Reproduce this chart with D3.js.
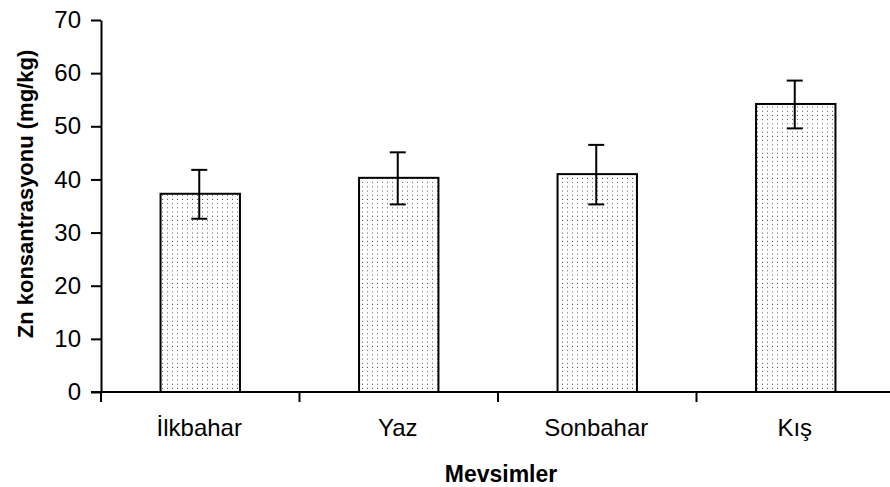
<!DOCTYPE html>
<html><head><meta charset="utf-8">
<script src="https://cdn.jsdelivr.net/npm/d3@7"></script>
<style>body{margin:0;background:#fff}svg{display:block}text{font-family:Arial,"Liberation Sans",sans-serif;fill:#000}</style>
</head><body><svg id="c" width="890" height="487"></svg>
<script>
const categories = ["İlkbahar", "Yaz", "Sonbahar", "Kış"];
const means = [37.3, 40.3, 41.0, 54.2];
const errLow = [32.6, 35.3, 35.3, 49.6];
const errHigh = [41.8, 45.1, 46.5, 58.6];
const yTicks = [0, 10, 20, 30, 40, 50, 60, 70];

const svg = d3.select("#c");
const defs = svg.append("defs");
const pat = defs.append("pattern").attr("id","dots").attr("patternUnits","userSpaceOnUse")
  .attr("width",5).attr("height",4.2);
pat.append("rect").attr("width",5).attr("height",4.2).attr("fill","#fff");
pat.append("rect").attr("x",2).attr("y",1.5).attr("width",1).attr("height",1).attr("fill","#555");

const x0 = 101, x1 = 895, yTop = 20, yBot = 392;
const x = d3.scaleBand().domain(categories).range([x0, x1]).paddingInner(0.6).paddingOuter(0.3);
const xb = d3.scaleBand().domain(categories).range([x0, x1]);
const y = d3.scaleLinear().domain([0,70]).range([yBot, yTop]);

const g = svg.append("g");
g.selectAll("rect.bar").data(categories).join("rect").attr("class","bar")
  .attr("x", d => x(d)).attr("width", x.bandwidth())
  .attr("y", (d,i) => y(means[i])).attr("height", (d,i) => y(0) - y(means[i]))
  .attr("fill","url(#dots)").attr("stroke","#000").attr("stroke-width",2);
const eb = g.selectAll("g.eb").data(categories).join("g").attr("class","eb");
const cx = d => x(d)+x.bandwidth()/2 - 1;
eb.append("line").attr("x1", cx).attr("x2", cx)
  .attr("y1",(d,i)=>y(errLow[i])).attr("y2",(d,i)=>y(errHigh[i])).attr("stroke","#000").attr("stroke-width",2);
eb.append("line").attr("x1", d => cx(d)-8).attr("x2", d => cx(d)+8)
  .attr("y1",(d,i)=>y(errHigh[i])).attr("y2",(d,i)=>y(errHigh[i])).attr("stroke","#000").attr("stroke-width",2);
eb.append("line").attr("x1", d => cx(d)-8).attr("x2", d => cx(d)+8)
  .attr("y1",(d,i)=>y(errLow[i])).attr("y2",(d,i)=>y(errLow[i])).attr("stroke","#000").attr("stroke-width",2);

const ya = svg.append("g").attr("transform",`translate(${x0},0)`)
  .call(d3.axisLeft(y).tickValues(yTicks).tickSize(10).tickSizeOuter(0).tickPadding(10));
ya.select(".domain").attr("stroke-width",2);
ya.selectAll(".tick line").attr("stroke-width",2);
ya.selectAll(".tick text").style("font-size","24px").style("font-family","Arial, 'Liberation Sans', sans-serif");

const xa = svg.append("g").attr("transform",`translate(0,${yBot})`);
xa.append("line").attr("x1",x0-10).attr("x2",x1).attr("y1",0).attr("y2",0).attr("stroke","#000").attr("stroke-width",2);
const bounds = categories.map(c => xb(c)).concat([x1]);
xa.selectAll("line.t").data(bounds).join("line").attr("class","t")
  .attr("x1",d=>d).attr("x2",d=>d).attr("y1",0).attr("y2",10).attr("stroke","#000").attr("stroke-width",2);
xa.selectAll("text").data(categories).join("text")
  .attr("x", d => xb(d)+xb.bandwidth()/2 - 1).attr("y", 44).attr("text-anchor","middle")
  .style("font-size","24px").text(d=>d);

svg.append("text").attr("x",501).attr("y",482).attr("text-anchor","middle")
  .style("font-size","23px").style("font-weight","bold").text("Mevsimler");
svg.append("text").attr("transform",`translate(33,194) rotate(-90)`).attr("text-anchor","middle")
  .style("font-size","22px").style("font-weight","bold").text("Zn konsantrasyonu (mg/kg)");
</script></body></html>
